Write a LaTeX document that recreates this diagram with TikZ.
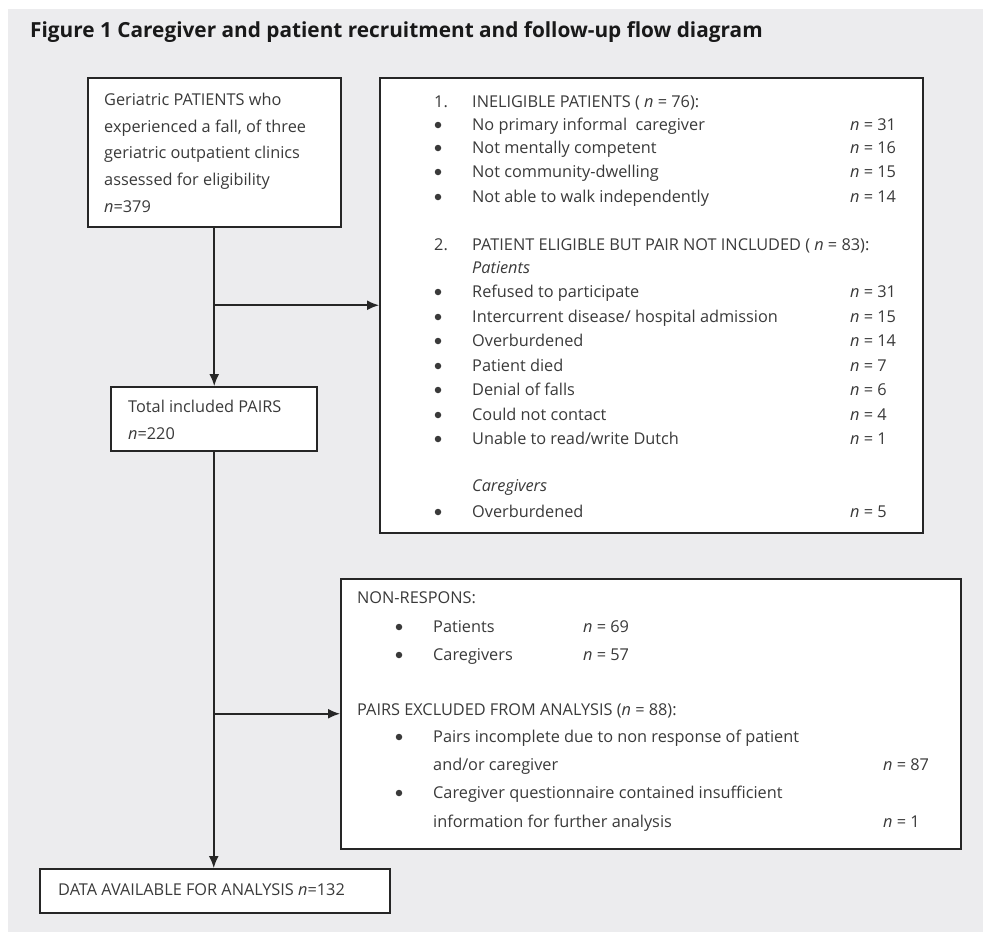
\documentclass[tikz,border=0pt]{standalone}
\usepackage{fontspec}
\setmainfont{Open Sans}
\usetikzlibrary{arrows.meta}
\definecolor{bg}{HTML}{ECECEE}
\definecolor{ink}{HTML}{3A3A3A}
\definecolor{rulec}{HTML}{262626}
\newcommand{\nn}{\textit{n}}

\begin{document}
\begin{tikzpicture}[x=1pt, y=-1pt,
    box/.style = {draw=rulec, line width=1.5pt, fill=white, anchor=north west, inner sep=0pt},
    txt/.style = {anchor=base west, inner sep=0pt, text=ink, font=\fontsize{16.3}{19}\selectfont},
    dot/.style = {circle, fill=ink, inner sep=0pt, minimum size=6.5pt},
    arr/.style = {-{Latex[length=12pt,width=10pt]}, draw=rulec, line width=1.6pt}]
    \useasboundingbox (0,0) rectangle (983,932);
    \fill[white] (0,0) rectangle (983,932);
    \fill[bg] (8,9) rectangle (983,932);

    \node[anchor=base west, inner sep=0pt, text=black!90, font=\bfseries\fontsize{20.8}{24}\selectfont] (title) at (30,37) {Figure 1 Caregiver and patient recruitment and follow-up flow diagram};

    % boxes
    \node[box, minimum width=253pt, minimum height=149pt] (pat) at (87,77) {};
    \node[box, minimum width=543pt, minimum height=455pt] (inel) at (379,77) {};
    \node[box, minimum width=206pt, minimum height=64pt] (pairs) at (110,386) {};
    \node[box, minimum width=620pt, minimum height=270pt] (excl) at (340,578) {};
    \node[box, minimum width=350pt, minimum height=44pt] (data) at (39,868) {};

    % connectors
    \draw[arr] (pat.south) -- (pat.south |- pairs.north);
    \draw[arr] (pat.south |- inel.west) -- (inel.west);
    \draw[arr] (pairs.south) -- (pairs.south |- data.north);
    \draw[arr] (pairs.south |- excl.west) -- (excl.west);

    % patients box
    \node[txt] (pat1) at (104,105) {Geriatric PATIENTS who};
    \node[txt] (pat2) at (104,132) {experienced a fall, of three};
    \node[txt] (pat3) at (104,158) {geriatric outpatient clinics};
    \node[txt] (pat4) at (104,185) {assessed for eligibility};
    \node[txt] (pat5) at (104,212) {\nn=379};

    % ineligible box
    \node[txt] (in0n) at (434,107) {1.};
    \node[txt] (in0) at (472,107) {INELIGIBLE PATIENTS ( \nn\ = 76):};
    \node[dot] (in1b) at (438,125) {};
    \node[txt] (in1) at (472,130) {No primary informal\ \ caregiver};
    \node[txt] (in1n) at (850,130) {\nn\ = 31};
    \node[dot] (in2b) at (438,148) {};
    \node[txt] (in2) at (472,153) {Not mentally competent};
    \node[txt] (in2n) at (850,153) {\nn\ = 16};
    \node[dot] (in3b) at (438,172) {};
    \node[txt] (in3) at (472,177) {Not community-dwelling};
    \node[txt] (in3n) at (850,177) {\nn\ = 15};
    \node[dot] (in4b) at (438,197) {};
    \node[txt] (in4) at (472,202) {Not able to walk independently};
    \node[txt] (in4n) at (850,202) {\nn\ = 14};

    \node[txt] (el0n) at (434,250) {2.};
    \node[txt] (el0) at (472,250) {PATIENT ELIGIBLE BUT PAIR NOT INCLUDED ( \nn\ = 83):};
    \node[txt] (elp) at (472,273) {\textit{Patients}};
    \node[dot] (el1b) at (438,292) {};
    \node[txt] (el1) at (472,297) {Refused to participate};
    \node[txt] (el1n) at (850,297) {\nn\ = 31};
    \node[dot] (el2b) at (438,317) {};
    \node[txt] (el2) at (472,322) {Intercurrent disease/ hospital admission};
    \node[txt] (el2n) at (850,322) {\nn\ = 15};
    \node[dot] (el3b) at (438,341) {};
    \node[txt] (el3) at (472,346) {Overburdened};
    \node[txt] (el3n) at (850,346) {\nn\ = 14};
    \node[dot] (el4b) at (438,366) {};
    \node[txt] (el4) at (472,371) {Patient died};
    \node[txt] (el4n) at (850,371) {\nn\ = 7};
    \node[dot] (el5b) at (438,390) {};
    \node[txt] (el5) at (472,395) {Denial of falls};
    \node[txt] (el5n) at (850,395) {\nn\ = 6};
    \node[dot] (el6b) at (438,415) {};
    \node[txt] (el6) at (472,420) {Could not contact};
    \node[txt] (el6n) at (850,420) {\nn\ = 4};
    \node[dot] (el7b) at (438,439) {};
    \node[txt] (el7) at (472,444) {Unable to read/write Dutch};
    \node[txt] (el7n) at (850,444) {\nn\ = 1};
    \node[txt] (elc) at (472,491) {\textit{Caregivers}};
    \node[dot] (el8b) at (438,512) {};
    \node[txt] (el8) at (472,517) {Overburdened};
    \node[txt] (el8n) at (850,517) {\nn\ = 5};

    % included pairs box
    \node[txt] (pr1) at (128,412) {Total included PAIRS};
    \node[txt] (pr2) at (128,439) {\nn=220};

    % non-response box
    \node[txt] (nr0) at (357,603) {NON-RESPONS:};
    \node[dot] (nr1b) at (399,627) {};
    \node[txt] (nr1) at (433,632) {Patients};
    \node[txt] (nr1n) at (583,632) {\nn\ = 69};
    \node[dot] (nr2b) at (399,655) {};
    \node[txt] (nr2) at (433,660) {Caregivers};
    \node[txt] (nr2n) at (583,660) {\nn\ = 57};
    \node[txt] (ex0) at (357,715) {PAIRS EXCLUDED FROM ANALYSIS (\nn\ = 88):};
    \node[dot] (ex1b) at (399,737) {};
    \node[txt] (ex1) at (433,742) {Pairs incomplete due to non response of patient};
    \node[txt] (ex1c) at (433,770) {and/or caregiver};
    \node[txt] (ex1n) at (883,770) {\nn\ = 87};
    \node[dot] (ex2b) at (399,793) {};
    \node[txt] (ex2) at (433,798) {Caregiver questionnaire contained insufficient};
    \node[txt] (ex2c) at (433,827) {information for further analysis};
    \node[txt] (ex2n) at (883,827) {\nn\ = 1};

    % data box
    \node[txt] (dt) at (58,895) {DATA AVAILABLE FOR ANALYSIS \nn=132};
\end{tikzpicture}
\end{document}
